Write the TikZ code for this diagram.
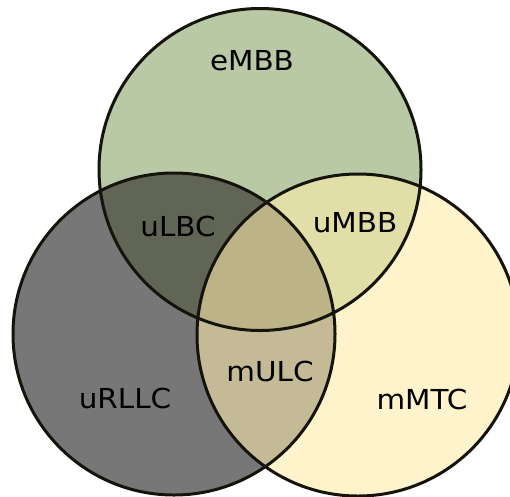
\documentclass[tikz,border=0pt]{standalone}
\usepackage{fontspec}
\setmainfont{DejaVu Sans}
\definecolor{cTop}{HTML}{B9C8A5}
\definecolor{cLeft}{HTML}{777777}
\definecolor{cRight}{HTML}{FFF3CC}
\definecolor{cTL}{HTML}{606556}
\definecolor{cTR}{HTML}{E2DEA8}
\definecolor{cLR}{HTML}{C4BA95}
\definecolor{cAll}{HTML}{BCB486}
\definecolor{cEdge}{HTML}{14140C}
\newcommand{\wide}[1]{\scalebox{1.07}[1]{#1}}
\tikzset{
  ring/.style={draw=cEdge, line width=3pt},
  lbl/.style={font=\fontsize{27.5}{30}\selectfont, text=black, inner sep=0pt}
}
\begin{document}
\begin{tikzpicture}[x=1pt,y=-1pt]
\useasboundingbox (0,0) rectangle (510,496);
\fill[white] (0,0) rectangle (510,496);
\def\top{(260,169.5) circle[radius=161]}
\def\lft{(174,334) circle[radius=161]}
\def\rgt{(358,335) circle[radius=161]}
% single sets
\fill[cTop] \top;
\fill[cLeft] \lft;
\fill[cRight] \rgt;
% pairwise overlaps
\begin{scope}\clip \top; \fill[cTL] \lft; \end{scope}
\begin{scope}\clip \top; \fill[cTR] \rgt; \end{scope}
\begin{scope}\clip \lft; \fill[cLR] \rgt; \end{scope}
% triple overlap
\begin{scope}\clip \top; \clip \lft; \fill[cAll] \rgt; \end{scope}
% outlines
\draw[ring] \top;
\draw[ring] \lft;
\draw[ring] \rgt;
% labels
\node[lbl] (embb) at (252,61) {\wide{eMBB}};
\node[lbl] (ulbc) at (178,226) {\wide{uLBC}};
\node[lbl] (umbb) at (355,223) {\wide{uMBB}};
\node[lbl] (mulc) at (270,371) {\wide{mULC}};
\node[lbl] (urllc) at (125,398) {\wide{uRLLC}};
\node[lbl] (mmtc) at (422,399) {\wide{mMTC}};
\end{tikzpicture}
\end{document}
